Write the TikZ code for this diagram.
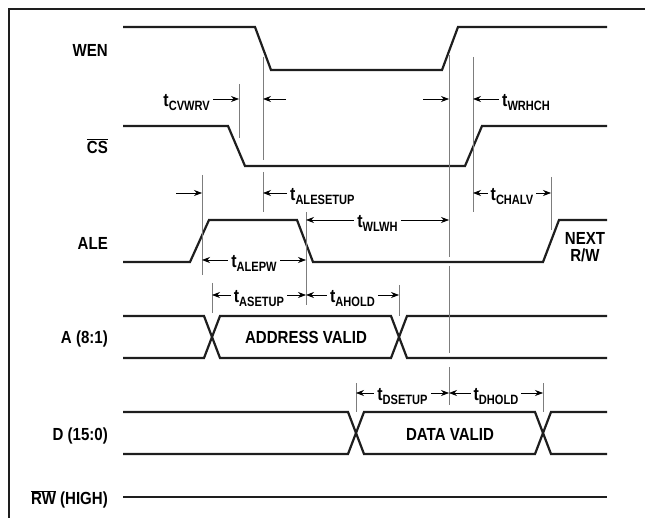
\documentclass[tikz,border=0pt]{standalone}
\usepackage{fontspec}
\newfontfamily\diafont[FakeStretch=0.86]{Liberation Sans}
\newfontfamily\subfont[FakeStretch=0.82]{Liberation Sans}
\usetikzlibrary{arrows.meta, calc}
\definecolor{guidegray}{RGB}{125,125,125}
\definecolor{inkblack}{RGB}{30,30,30}
\newcommand{\tlbl}[1]{t\raisebox{-3.5pt}{\subfont\bfseries\fontsize{13.5}{13.5}\selectfont #1}}

\begin{document}
\begin{tikzpicture}[x=1pt, y=-1pt,
  frameline/.style={draw=inkblack, line width=2.4pt},
  sig/.style={draw=inkblack, line width=2.2pt},
  guide/.style={draw=guidegray, line width=0.9pt},
  dimarrow/.style={-{Stealth[length=8pt,width=6pt]}, line width=0.7pt},
  dimboth/.style={{Stealth[length=8pt,width=6pt]}-{Stealth[length=8pt,width=6pt]}, line width=0.7pt},
  sname/.style={anchor=east, inner sep=0pt, text height=12.5pt, text depth=0pt,
    font=\diafont\bfseries\fontsize{17.5}{17.5}\selectfont},
  tname/.style={inner xsep=3pt, inner ysep=0pt, text height=19pt, text depth=3.5pt,
    font=\diafont\bfseries\fontsize{18.5}{18.5}\selectfont}]
\useasboundingbox (0,0) rectangle (645,518);

% frame
\draw[frameline] (9,518) -- (9,9) -- (645,9);

% signal names
\node[sname] (wen) at (108,50) {WEN};
\node[sname] (cs) at (108,147) {$\overline{\mbox{CS}}$};
\node[sname] (ale) at (108,243) {ALE};
\node[sname] (adr) at (108,337) {A (8:1)};
\node[sname] (dat) at (108,434) {D (15:0)};
\node[sname] (rw) at (108,498) {$\overline{\mbox{RW}}$ (HIGH)};

% waveforms
\draw[sig] (123,27) -- (255,27) -- (271,70) -- (442,70) -- (458,27) -- (607,27);
\draw[sig] (123,126) -- (228,126) -- (245,166) -- (465,166) -- (482,126) -- (607,126);
\draw[sig] (123,262) -- (190,262) -- (209,220) -- (297,220) -- (313,262) -- (543,262) -- (559,220) -- (607,220);
\draw[sig] (123,316) -- (204,316) -- (220,358) -- (391,358) -- (407,316) -- (607,316);
\draw[sig] (123,358) -- (204,358) -- (220,316) -- (391,316) -- (407,358) -- (607,358);
\draw[sig] (123,412) -- (348,412) -- (364,454) -- (535,454) -- (551,412) -- (607,412);
\draw[sig] (123,454) -- (348,454) -- (364,412) -- (535,412) -- (551,454) -- (607,454);
\draw[sig] (123,497) -- (607,497);

\node[sname, anchor=center] (adrvalid) at (306,337) {ADDRESS VALID};
\node[sname, anchor=center] (datvalid) at (450,434) {DATA VALID};
\node[font=\diafont\bfseries\fontsize{17.5}{17}\selectfont, align=center, inner sep=0pt] (nextrw) at (585,247) {NEXT\\R/W};

% guide lines
\foreach \g/\x/\ya/\yb in {csF/239/84/138, aleR/202/175/275, aleF/306/212/305,
    csR/473/57/212, aleN/551/177/230, adrS/212/283/313, adrE/399/285/316,
    datS/356/383/412, datE/543/383/412}
  {\coordinate (\g) at (\x,\ya); \draw[guide] (\x,\ya) -- (\x,\yb);}
\coordinate (wenF) at (263,57);
\draw[guide] (263,57) -- (263,160) (263,172) -- (263,212);
\coordinate (wenR) at (449,55);
\draw[guide] (449,55) -- (449,257) (449,266) -- (449,353) (449,367) -- (449,405);

% rows of the timing arrows
\coordinate (yCV) at (0,99);
\coordinate (yAL) at (0,193);
\coordinate (yWL) at (0,220);
\coordinate (yPW) at (0,260);
\coordinate (yAD) at (0,295);
\coordinate (yDA) at (0,393);

% tCVWRV
\node[tname, anchor=east] (cvwrv) at (213,99) {\tlbl{CVWRV}};
\draw[dimarrow] (cvwrv) -- (csF |- yCV);
\coordinate (cvin) at (286,99);
\draw[dimarrow] (cvin) -- (wenF |- yCV);

% tWRHCH
\coordinate (whin) at (423,99);
\draw[dimarrow] (whin) -- (wenR |- yCV);
\node[tname, anchor=west] (wrhch) at (499,99) {\tlbl{WRHCH}};
\draw[dimarrow] (wrhch) -- (csR |- yCV);

% ALE rise and tALESETUP
\coordinate (arin) at (176,193);
\draw[dimarrow] (arin) -- (aleR |- yAL);
\node[tname, anchor=west] (alesetup) at (287,193) {\tlbl{ALESETUP}};
\draw[dimarrow] (alesetup) -- (wenF |- yAL);

% spans
\draw[dimboth] (csR |- yAL) -- (aleN |- yAL) node[tname, fill=white, midway] (chalv) {\tlbl{CHALV}};
\draw[dimboth] (aleF |- yWL) -- (wenR |- yWL) node[tname, fill=white, midway] (wlwh) {\tlbl{WLWH}};
\draw[dimboth] (aleR |- yPW) -- (aleF |- yPW) node[tname, fill=white, midway] (alepw) {\tlbl{ALEPW}};
\draw[dimboth] (adrS |- yAD) -- (aleF |- yAD) node[tname, fill=white, midway] (asetup) {\tlbl{ASETUP}};
\draw[dimboth] (aleF |- yAD) -- (adrE |- yAD) node[tname, fill=white, midway] (ahold) {\tlbl{AHOLD}};
\draw[dimboth] (datS |- yDA) -- (wenR |- yDA) node[tname, fill=white, midway] (dsetup) {\tlbl{DSETUP}};
\draw[dimboth] (wenR |- yDA) -- (datE |- yDA) node[tname, fill=white, midway] (dhold) {\tlbl{DHOLD}};
\end{tikzpicture}
\end{document}
